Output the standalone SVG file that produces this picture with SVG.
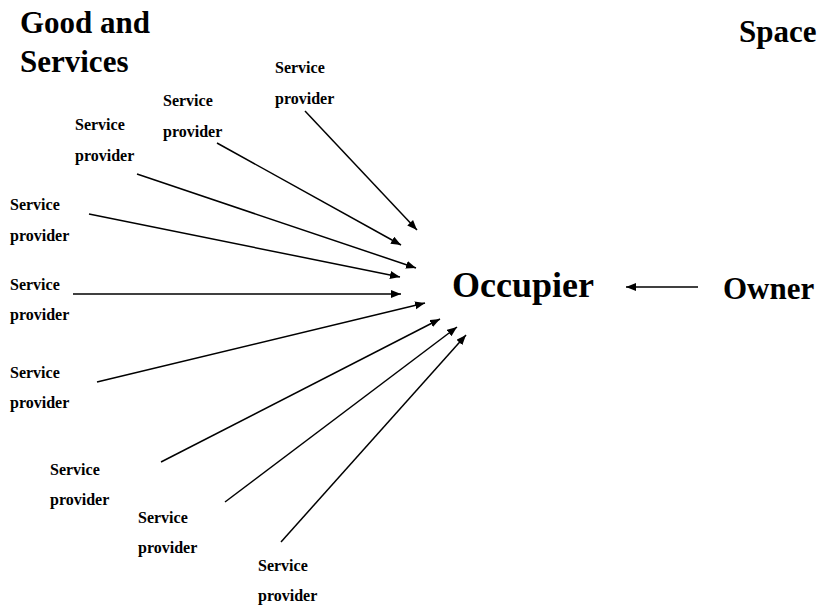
<svg xmlns="http://www.w3.org/2000/svg" width="822" height="608" viewBox="0 0 822 608">
<style>
text{font-family:"Liberation Serif","Times New Roman",serif;font-weight:bold;fill:#000}
.sp{font-size:16px}
.hd{font-size:31px}
.c line{stroke:#000;stroke-width:1.5}
</style>
<defs>
<marker id="ah" markerUnits="userSpaceOnUse" markerWidth="11" markerHeight="9" refX="10" refY="4" orient="auto">
<path d="M0,0 L10,4 L0,8 z" fill="#000"/>
</marker>
</defs>
<rect width="822" height="608" fill="#fff"/>
<g id="title-goods"><text class="hd" x="20" y="33">Good and</text><text class="hd" x="20" y="72">Services</text></g>
<g id="title-space"><text class="hd" x="739" y="42">Space</text></g>
<g id="occupier"><text x="452" y="297" style="font-size:36px">Occupier</text></g>
<g id="owner"><text x="723" y="299" style="font-size:31px">Owner</text></g>
<g id="sp1"><text class="sp" x="275" y="73">Service</text><text class="sp" x="275" y="104">provider</text></g>
<g id="sp2"><text class="sp" x="163" y="106">Service</text><text class="sp" x="163" y="137">provider</text></g>
<g id="sp3"><text class="sp" x="75" y="130">Service</text><text class="sp" x="75" y="161">provider</text></g>
<g id="sp4"><text class="sp" x="10" y="210">Service</text><text class="sp" x="10" y="241">provider</text></g>
<g id="sp5"><text class="sp" x="10" y="290">Service</text><text class="sp" x="10" y="320">provider</text></g>
<g id="sp6"><text class="sp" x="10" y="378">Service</text><text class="sp" x="10" y="408">provider</text></g>
<g id="sp7"><text class="sp" x="50" y="475">Service</text><text class="sp" x="50" y="505">provider</text></g>
<g id="sp8"><text class="sp" x="138" y="523">Service</text><text class="sp" x="138" y="553">provider</text></g>
<g id="sp9"><text class="sp" x="258" y="571">Service</text><text class="sp" x="258" y="601">provider</text></g>
<g id="connectors" class="c">
<line x1="305" y1="111" x2="417" y2="230" marker-end="url(#ah)"/>
<line x1="217" y1="143" x2="401" y2="245" marker-end="url(#ah)"/>
<line x1="137" y1="174" x2="416" y2="268" marker-end="url(#ah)"/>
<line x1="89" y1="214" x2="400" y2="277" marker-end="url(#ah)"/>
<line x1="73" y1="294" x2="401" y2="294" marker-end="url(#ah)"/>
<line x1="97" y1="382" x2="425" y2="303" marker-end="url(#ah)"/>
<line x1="161" y1="462" x2="440" y2="319" marker-end="url(#ah)"/>
<line x1="225" y1="502" x2="457" y2="327" marker-end="url(#ah)"/>
<line x1="281" y1="542" x2="466" y2="335" marker-end="url(#ah)"/>
<line x1="698" y1="287" x2="626" y2="287" marker-end="url(#ah)"/>
</g>
</svg>
